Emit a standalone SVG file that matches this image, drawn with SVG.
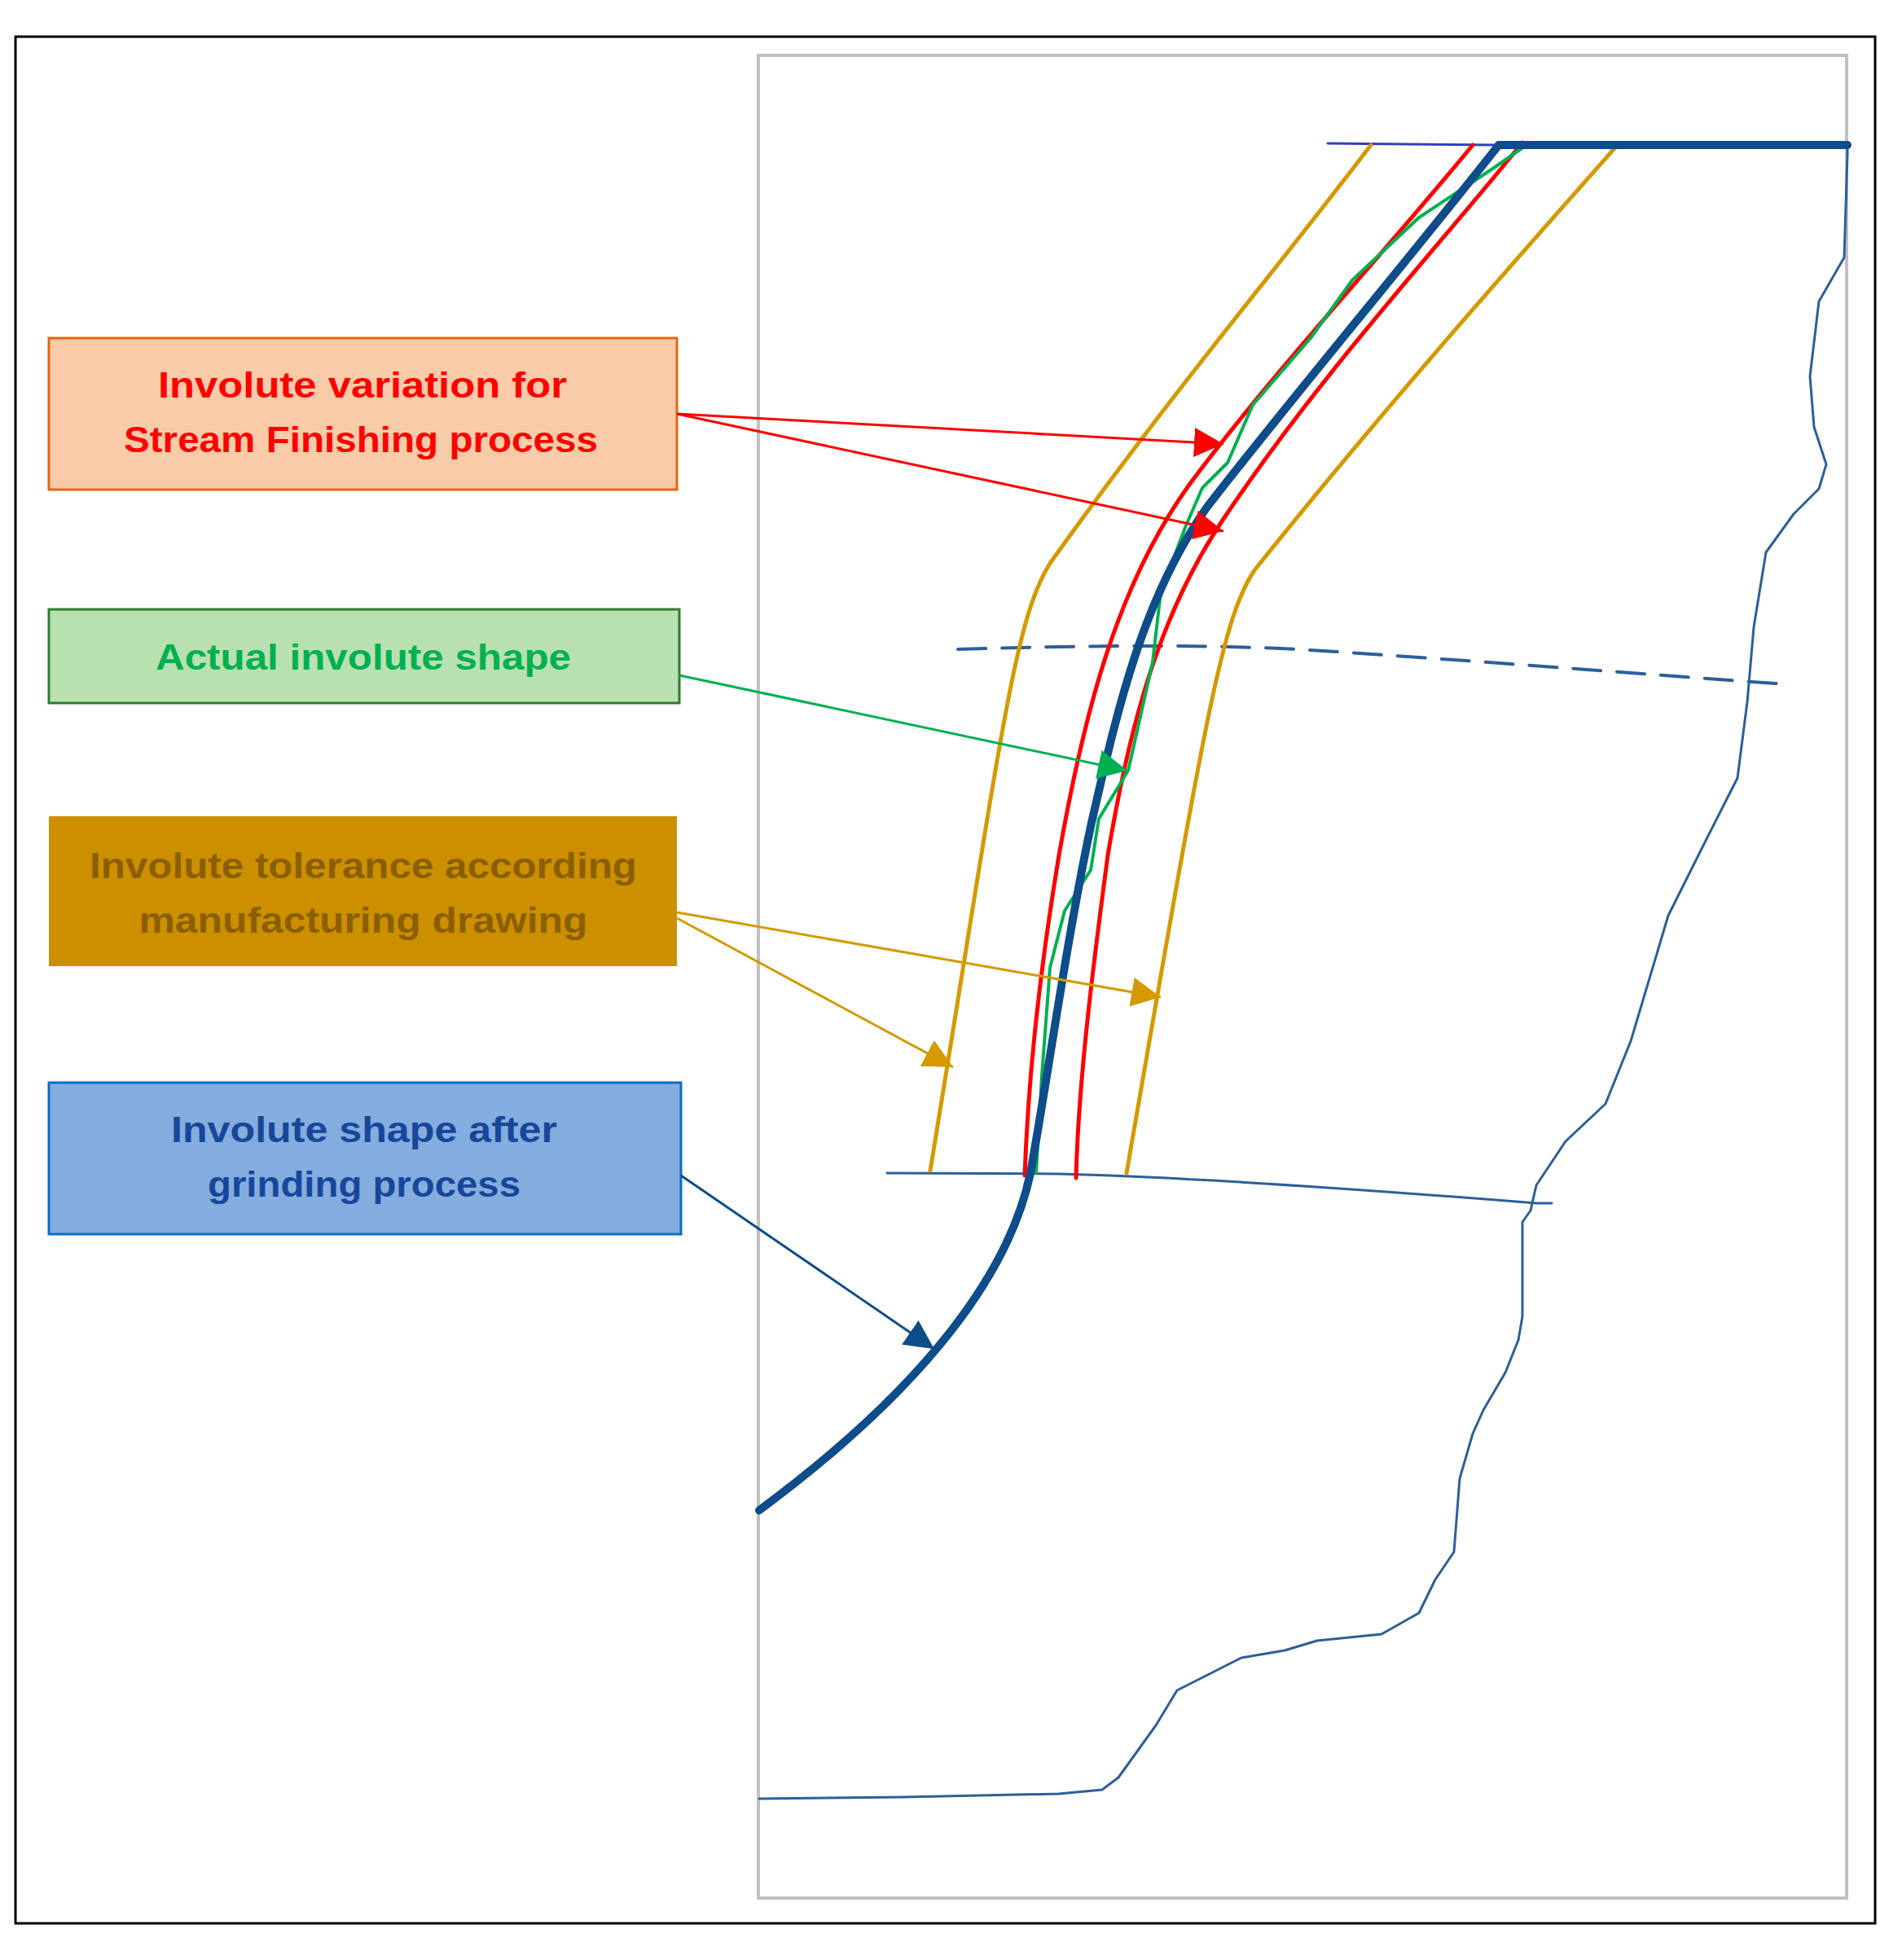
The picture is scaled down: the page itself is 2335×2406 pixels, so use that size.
<svg xmlns="http://www.w3.org/2000/svg" width="2335" height="2406" viewBox="0 0 2335 2406">
<defs>
<style>
.t{font-family:"Liberation Sans",Arial,sans-serif;font-weight:bold;font-size:44px;text-anchor:middle}
.c{fill:none;stroke-linecap:round;stroke-linejoin:round}
</style>
<marker id="mr2" viewBox="0 0 10 10" refX="10" refY="5" markerWidth="36" markerHeight="36" markerUnits="userSpaceOnUse" orient="auto"><path d="M0 0L10 5L0 10z" fill="#FF0000"/></marker>
<marker id="mg" viewBox="0 0 10 10" refX="10" refY="5" markerWidth="36" markerHeight="36" markerUnits="userSpaceOnUse" orient="auto"><path d="M0 0L10 5L0 10z" fill="#00B050"/></marker>
<marker id="mo" viewBox="0 0 10 10" refX="10" refY="5" markerWidth="36" markerHeight="36" markerUnits="userSpaceOnUse" orient="auto"><path d="M0 0L10 5L0 10z" fill="#D49A00"/></marker>
<marker id="mb" viewBox="0 0 10 10" refX="10" refY="5" markerWidth="36" markerHeight="36" markerUnits="userSpaceOnUse" orient="auto"><path d="M0 0L10 5L0 10z" fill="#0F4C8A"/></marker>
</defs>
<rect width="2335" height="2406" fill="#fff"/>
<rect x="19" y="45" width="2283" height="2316" fill="none" stroke="#000" stroke-width="3"/>
<rect x="931" y="68" width="1336" height="2262" fill="none" stroke="#C0C0C0" stroke-width="4"/>

<g id="drawing">
<path class="c" d="M1089 1440 L1300 1441 Q1500 1446 1886 1477 L1905 1477" stroke="#2D5F9A" stroke-width="3"/>
<path class="c" d="M1176 797 C1350 792 1500 790 1640 800 C1850 814 2050 830 2194 840" stroke="#2D5F9A" stroke-width="4" stroke-dasharray="34 20"/>
<path class="c" d="M1630 176 L1840 178" stroke="#3040C0" stroke-width="3"/>
<path class="c" d="M2268 181 L2268 190 L2264 316 L2233 370 L2222 462 L2227 524 L2242 570 L2233 600 L2202 631 L2168 678 L2153 770 L2145 862 L2133 955 L2094 1032 L2048 1124 L2025 1201 L2002 1278 L1971 1355 L1922 1401 L1886 1455 L1879 1486 L1869 1500 L1869 1616 L1864 1645 L1848 1685 L1821 1731 L1808 1760 L1792 1815 L1785 1905 L1762 1939 L1742 1980 L1696 2006 L1617 2014 L1577 2026 L1524 2035 L1445 2075 L1419 2118 L1373 2182 L1353 2197 L1300 2202 L1109 2206 L932 2208" stroke="#2D5F9A" stroke-width="3"/>
<path class="c" d="M1683 178 C1560 340 1440 480 1290 690 C1245 760 1230 900 1142 1437" stroke="#D49A00" stroke-width="5"/>
<path class="c" d="M1983 181 C1860 320 1700 500 1540 700 C1500 760 1480 880 1383 1440" stroke="#D49A00" stroke-width="5"/>
<path class="c" d="M1808 178 C1700 310 1560 460 1460 595 C1370 720 1330 880 1300 1050 C1275 1200 1262 1330 1258 1443" stroke="#FF0000" stroke-width="5"/>
<path class="c" d="M1869 175 C1760 310 1620 460 1500 640 C1420 760 1385 900 1360 1050 C1340 1200 1324 1330 1321 1446" stroke="#FF0000" stroke-width="5"/>
<path class="c" d="M1874 178 L1834 206 L1742 267 L1660 344 L1609 415 L1538 497 L1507 568 L1476 599 L1456 645 L1425 727 L1415 813 L1385 946 L1349 1005 L1339 1068 L1307 1118 L1289 1188 L1279 1321 L1272 1440" stroke="#00B050" stroke-width="4"/>
<path class="c" d="M1840 178 L2268 178" stroke="#0F4C8A" stroke-width="10"/>
<path class="c" d="M1840 178 C1720 330 1560 520 1480 625 C1400 740 1370 880 1340 1010 C1310 1150 1285 1330 1265 1440 C1240 1560 1140 1700 932 1854" stroke="#0F4C8A" stroke-width="10"/>
</g>

<g id="n1">
<rect x="60" y="415" width="771" height="186" fill="#FACBA9" stroke="#E8650F" stroke-width="3"/>
<text class="t" x="445" y="488" fill="#FF0000" textLength="502" lengthAdjust="spacingAndGlyphs">Involute variation for</text>
<text class="t" x="443" y="555" fill="#FF0000" textLength="582" lengthAdjust="spacingAndGlyphs">Stream Finishing process</text>
</g>
<g id="n2">
<rect x="60" y="748" width="774" height="115" fill="#B9E0B1" stroke="#2E7D2E" stroke-width="3"/>
<text class="t" x="446" y="822" fill="#00B050" textLength="510" lengthAdjust="spacingAndGlyphs">Actual involute shape</text>
</g>
<g id="n3">
<rect x="60" y="1002" width="771" height="184" fill="#CC8F00"/>
<text class="t" x="446" y="1078" fill="#8A5F00" textLength="672" lengthAdjust="spacingAndGlyphs">Involute tolerance according</text>
<text class="t" x="446" y="1145" fill="#8A5F00" textLength="551" lengthAdjust="spacingAndGlyphs">manufacturing drawing</text>
</g>
<g id="n4">
<rect x="60" y="1329" width="776" height="186" fill="#84ACDF" stroke="#0A6FC2" stroke-width="3"/>
<text class="t" x="447" y="1402" fill="#17479A" textLength="474" lengthAdjust="spacingAndGlyphs">Involute shape after</text>
<text class="t" x="447" y="1469" fill="#17479A" textLength="384" lengthAdjust="spacingAndGlyphs">grinding process</text>
</g>

<g id="connectors" fill="none">
<path d="M831 508 L1502 545" stroke="#FF0000" stroke-width="3" marker-end="url(#mr2)"/>
<path d="M831 508 L1502 652" stroke="#FF0000" stroke-width="3" marker-end="url(#mr2)"/>
<path d="M834 829 L1384 946" stroke="#00B050" stroke-width="3" marker-end="url(#mg)"/>
<path d="M831 1120 L1425 1224" stroke="#D49A00" stroke-width="3" marker-end="url(#mo)"/>
<path d="M831 1127 L1170 1310" stroke="#D49A00" stroke-width="3" marker-end="url(#mo)"/>
<path d="M836 1443 L1147 1656" stroke="#0F4C8A" stroke-width="3" marker-end="url(#mb)"/>
</g>
</svg>
